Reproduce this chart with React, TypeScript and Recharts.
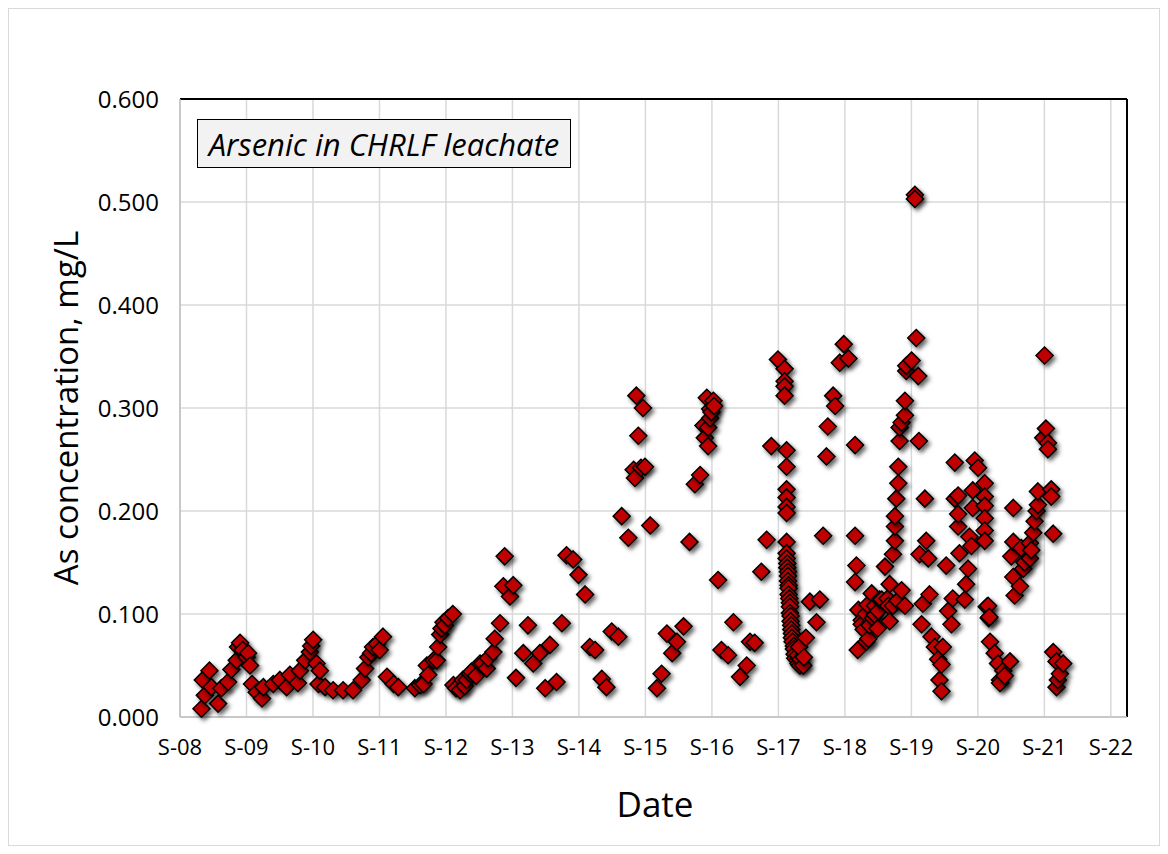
import React from 'react';
import { ScatterChart, Scatter, XAxis, YAxis, CartesianGrid, ReferenceLine } from 'recharts';

// Leachate sampling results, [decimal year, As mg/L], grouped by September-to-September year
const sep08 = [
  [2008.99, 0.008], [2009.01, 0.036], [2009.04, 0.021], [2009.11, 0.045], [2009.14, 0.029],
  [2009.24, 0.013], [2009.29, 0.028], [2009.39, 0.034], [2009.44, 0.046], [2009.52, 0.055],
  [2009.54, 0.068], [2009.57, 0.072], [2009.61, 0.065], [2009.67, 0.058],
];
const sep09 = [
  [2009.69, 0.062], [2009.72, 0.05], [2009.75, 0.032], [2009.82, 0.024], [2009.9, 0.018],
  [2009.92, 0.029], [2010.07, 0.032], [2010.17, 0.036], [2010.27, 0.029], [2010.32, 0.041],
  [2010.44, 0.033], [2010.47, 0.045], [2010.55, 0.055], [2010.62, 0.063], [2010.64, 0.069],
  [2010.67, 0.075],
];
const sep10 = [
  [2010.72, 0.052], [2010.75, 0.032], [2010.77, 0.045], [2010.85, 0.029], [2010.97, 0.026],
  [2011.12, 0.026], [2011.27, 0.026], [2011.4, 0.036], [2011.45, 0.047], [2011.5, 0.058],
  [2011.54, 0.062], [2011.57, 0.068], [2011.63, 0.071], [2011.67, 0.065], [2011.72, 0.078],
];
const sep11 = [
  [2011.78, 0.039], [2011.88, 0.032], [2011.95, 0.029], [2012.2, 0.028], [2012.28, 0.031],
  [2012.33, 0.032], [2012.38, 0.05], [2012.4, 0.041], [2012.48, 0.055], [2012.53, 0.055],
  [2012.55, 0.068], [2012.58, 0.08], [2012.6, 0.086], [2012.63, 0.092], [2012.65, 0.089],
  [2012.7, 0.096], [2012.77, 0.1],
];
const sep12 = [
  [2012.78, 0.031], [2012.82, 0.028], [2012.88, 0.026], [2012.92, 0.036], [2012.95, 0.03],
  [2012.98, 0.036], [2013.03, 0.042], [2013.05, 0.044], [2013.12, 0.04], [2013.18, 0.052],
  [2013.22, 0.052], [2013.28, 0.047], [2013.3, 0.057], [2013.38, 0.063], [2013.4, 0.076],
  [2013.48, 0.091], [2013.53, 0.127], [2013.55, 0.156], [2013.63, 0.117], [2013.68, 0.128],
];
const sep13 = [
  [2013.72, 0.038], [2013.83, 0.062], [2013.9, 0.089], [2013.98, 0.052], [2014.08, 0.062],
  [2014.16, 0.028], [2014.23, 0.07], [2014.33, 0.034], [2014.41, 0.091], [2014.48, 0.157],
  [2014.58, 0.153], [2014.66, 0.138],
];
const sep14 = [
  [2014.76, 0.119], [2014.83, 0.068], [2014.91, 0.065], [2015.01, 0.037], [2015.08, 0.029],
  [2015.16, 0.083], [2015.26, 0.078], [2015.31, 0.195], [2015.41, 0.174], [2015.49, 0.24],
  [2015.51, 0.232], [2015.53, 0.312], [2015.56, 0.273], [2015.6, 0.242], [2015.63, 0.3],
  [2015.66, 0.243],
];
const sep15 = [
  [2015.74, 0.186], [2015.84, 0.028], [2015.91, 0.042], [2015.99, 0.081], [2016.07, 0.062],
  [2016.14, 0.073], [2016.24, 0.088], [2016.33, 0.17], [2016.41, 0.226], [2016.49, 0.235],
  [2016.54, 0.283], [2016.56, 0.271], [2016.59, 0.31], [2016.61, 0.263], [2016.61, 0.281],
  [2016.64, 0.29], [2016.64, 0.299], [2016.66, 0.296], [2016.69, 0.307], [2016.7, 0.302],
];
const sep16 = [
  [2016.76, 0.133], [2016.81, 0.065], [2016.91, 0.06], [2016.99, 0.092], [2017.09, 0.039],
  [2017.19, 0.05], [2017.24, 0.073], [2017.31, 0.072], [2017.41, 0.141], [2017.49, 0.172],
  [2017.56, 0.263], [2017.66, 0.347],
];
const sep17 = [
  [2017.76, 0.338], [2017.76, 0.326], [2017.76, 0.321], [2017.76, 0.312], [2017.79, 0.259],
  [2017.79, 0.243], [2017.79, 0.221], [2017.79, 0.213], [2017.79, 0.204], [2017.79, 0.198],
  [2017.79, 0.17], [2017.79, 0.159], [2017.79, 0.154], [2017.8, 0.149], [2017.8, 0.145],
  [2017.81, 0.141], [2017.81, 0.137], [2017.81, 0.132], [2017.82, 0.128], [2017.82, 0.125],
  [2017.82, 0.119], [2017.83, 0.115], [2017.84, 0.111], [2017.84, 0.107], [2017.84, 0.101],
  [2017.85, 0.098], [2017.85, 0.093], [2017.86, 0.089], [2017.86, 0.085], [2017.87, 0.081],
  [2017.87, 0.077], [2017.88, 0.073], [2017.9, 0.069], [2017.9, 0.066], [2017.91, 0.061],
  [2017.92, 0.057], [2017.95, 0.055], [2017.96, 0.06], [2017.97, 0.052], [2017.99, 0.05],
  [2018.0, 0.056], [2017.98, 0.068], [2018.04, 0.05], [2018.05, 0.058], [2018.08, 0.077],
  [2018.14, 0.112], [2018.24, 0.092], [2018.29, 0.114], [2018.34, 0.176], [2018.39, 0.253],
  [2018.41, 0.282], [2018.49, 0.312], [2018.52, 0.302], [2018.59, 0.344], [2018.65, 0.362],
  [2018.72, 0.348],
];
const sep18 = [
  [2018.82, 0.264], [2018.82, 0.176], [2018.84, 0.147], [2018.82, 0.131], [2018.87, 0.104],
  [2018.86, 0.065], [2018.92, 0.094], [2018.92, 0.09], [2018.95, 0.085], [2018.98, 0.1],
  [2018.99, 0.073], [2019.01, 0.109], [2019.02, 0.076], [2019.04, 0.089], [2019.07, 0.12],
  [2019.09, 0.096], [2019.12, 0.108], [2019.12, 0.099], [2019.16, 0.086], [2019.17, 0.103],
  [2019.19, 0.114], [2019.22, 0.114], [2019.27, 0.146], [2019.31, 0.115], [2019.32, 0.108],
  [2019.34, 0.129], [2019.34, 0.093], [2019.39, 0.158], [2019.39, 0.108], [2019.42, 0.171],
  [2019.42, 0.185], [2019.42, 0.195], [2019.44, 0.212], [2019.46, 0.113], [2019.47, 0.227],
  [2019.47, 0.243], [2019.49, 0.268], [2019.49, 0.281], [2019.52, 0.286], [2019.52, 0.123],
  [2019.57, 0.293], [2019.57, 0.307], [2019.57, 0.108], [2019.59, 0.336], [2019.59, 0.341],
  [2019.67, 0.346],
];
const sep19 = [
  [2019.72, 0.507], [2019.72, 0.503], [2019.74, 0.368], [2019.77, 0.331], [2019.78, 0.268],
  [2019.79, 0.158], [2019.82, 0.09], [2019.84, 0.11], [2019.87, 0.212], [2019.89, 0.171],
  [2019.92, 0.154], [2019.94, 0.119], [2019.97, 0.078], [2020.02, 0.068], [2020.07, 0.056],
  [2020.09, 0.036], [2020.12, 0.051], [2020.12, 0.025], [2020.14, 0.068], [2020.19, 0.147],
  [2020.22, 0.103], [2020.27, 0.09], [2020.29, 0.115], [2020.32, 0.212], [2020.32, 0.247],
  [2020.37, 0.185], [2020.37, 0.197], [2020.37, 0.215], [2020.39, 0.159], [2020.47, 0.114],
  [2020.49, 0.129], [2020.52, 0.144], [2020.54, 0.175], [2020.57, 0.166], [2020.59, 0.22],
  [2020.59, 0.203], [2020.62, 0.249],
];
const sep20 = [
  [2020.67, 0.242], [2020.77, 0.227], [2020.77, 0.214], [2020.77, 0.205], [2020.77, 0.193],
  [2020.77, 0.181], [2020.77, 0.171], [2020.8, 0.107], [2020.82, 0.108], [2020.83, 0.096],
  [2020.84, 0.097], [2020.85, 0.073], [2020.92, 0.062], [2020.97, 0.052], [2021.0, 0.036],
  [2021.0, 0.033], [2021.05, 0.045], [2021.07, 0.04], [2021.15, 0.054], [2021.17, 0.156],
  [2021.2, 0.203], [2021.2, 0.17], [2021.2, 0.136], [2021.22, 0.118], [2021.3, 0.127],
  [2021.32, 0.164], [2021.35, 0.144], [2021.37, 0.15], [2021.45, 0.169], [2021.45, 0.154],
  [2021.47, 0.162], [2021.5, 0.179], [2021.52, 0.19], [2021.55, 0.2], [2021.57, 0.206],
  [2021.57, 0.219], [2021.65, 0.271],
];
const sep21 = [
  [2021.67, 0.351], [2021.69, 0.28], [2021.72, 0.266], [2021.72, 0.26], [2021.77, 0.221],
  [2021.77, 0.214], [2021.8, 0.178], [2021.8, 0.063], [2021.85, 0.054], [2021.85, 0.029],
  [2021.87, 0.036], [2021.9, 0.042], [2021.95, 0.052],
];

const xTicks = [
  2008.667, 2009.667, 2010.667, 2011.667, 2012.667, 2013.667, 2014.667, 2015.667,
  2016.667, 2017.667, 2018.667, 2019.667, 2020.667, 2021.667, 2022.667,
];
const xTickLabels = [
  'S-08', 'S-09', 'S-10', 'S-11', 'S-12', 'S-13', 'S-14', 'S-15',
  'S-16', 'S-17', 'S-18', 'S-19', 'S-20', 'S-21', 'S-22',
];
const yTicks = [0, 0.1, 0.2, 0.3, 0.4, 0.5, 0.6];
const xMax = 2022.91;

const samples = [sep08, sep09, sep10, sep11, sep12, sep13, sep14, sep15, sep16, sep17, sep18, sep19, sep20, sep21]
  .flat()
  .map(([date, arsenic]) => ({ date, arsenic }));

const FONT = '"Open Sans", sans-serif';

const Diamond = (props: any) => {
  const { cx, cy } = props;
  const r = 8.5;
  return (
    <polygon
      points={`${cx},${cy - r} ${cx + r},${cy} ${cx},${cy + r} ${cx - r},${cy}`}
      fill="#c00000"
      stroke="#000"
      strokeWidth={1.5}
      filter="url(#markerShadow)"
    />
  );
};

export default function App() {
  return (
    <div
      style={{
        position: 'relative',
        width: 1152,
        height: 838,
        border: '1px solid #d9d9d9',
        boxSizing: 'border-box',
        background: '#fff',
        fontFamily: FONT,
      }}
    >
      <svg width={0} height={0} style={{ position: 'absolute' }}>
        <defs>
          <filter id="markerShadow" x="-60%" y="-60%" width="220%" height="220%">
            <feDropShadow dx={2.5} dy={3} stdDeviation={2.2} floodColor="#000" floodOpacity={0.6} />
          </filter>
        </defs>
      </svg>

      <ScatterChart width={1150} height={836} margin={{ top: 90, right: 32, left: 71, bottom: 68 }}>
        <CartesianGrid stroke="#d9d9d9" strokeWidth={1.5} />
        <XAxis
          type="number"
          dataKey="date"
          domain={[2008.667, xMax]}
          ticks={xTicks}
          tickFormatter={(v: number) => xTickLabels[xTicks.indexOf(v)] ?? ''}
          allowDataOverflow
          height={60}
          tickLine={false}
          tickMargin={16}
          stroke="#bfbfbf"
          strokeWidth={1.5}
          tick={{ fill: '#000', fontSize: 22, fontFamily: FONT }}
        />
        <YAxis
          type="number"
          dataKey="arsenic"
          domain={[0, 0.6]}
          ticks={yTicks}
          tickFormatter={(v: number) => v.toFixed(3)}
          width={100}
          tickLine={false}
          tickMargin={15}
          stroke="#bfbfbf"
          strokeWidth={1.5}
          tick={{ fill: '#000', fontSize: 24, fontFamily: FONT }}
        />
        <ReferenceLine y={0.6} stroke="#000" strokeWidth={2} />
        <ReferenceLine x={xMax} stroke="#000" strokeWidth={2} />
        <Scatter data={samples} shape={Diamond} isAnimationActive={false} />
      </ScatterChart>

      <div
        style={{
          position: 'absolute',
          left: 188,
          top: 110,
          width: 374,
          height: 49,
          boxSizing: 'border-box',
          border: '1.5px solid #000',
          background: '#f2f2f2',
          display: 'flex',
          alignItems: 'center',
          justifyContent: 'center',
          fontStyle: 'italic',
          fontSize: 31,
          whiteSpace: 'nowrap',
        }}
      >
        Arsenic in CHRLF leachate
      </div>

      <div
        style={{
          position: 'absolute',
          left: 56,
          top: 399,
          transform: 'translate(-50%, -50%) rotate(-90deg)',
          fontSize: 33,
          whiteSpace: 'nowrap',
        }}
      >
        As concentration, mg/L
      </div>

      <div
        style={{
          position: 'absolute',
          left: 646,
          top: 794,
          transform: 'translate(-50%, -50%)',
          fontSize: 35,
          whiteSpace: 'nowrap',
        }}
      >
        Date
      </div>
    </div>
  );
}
